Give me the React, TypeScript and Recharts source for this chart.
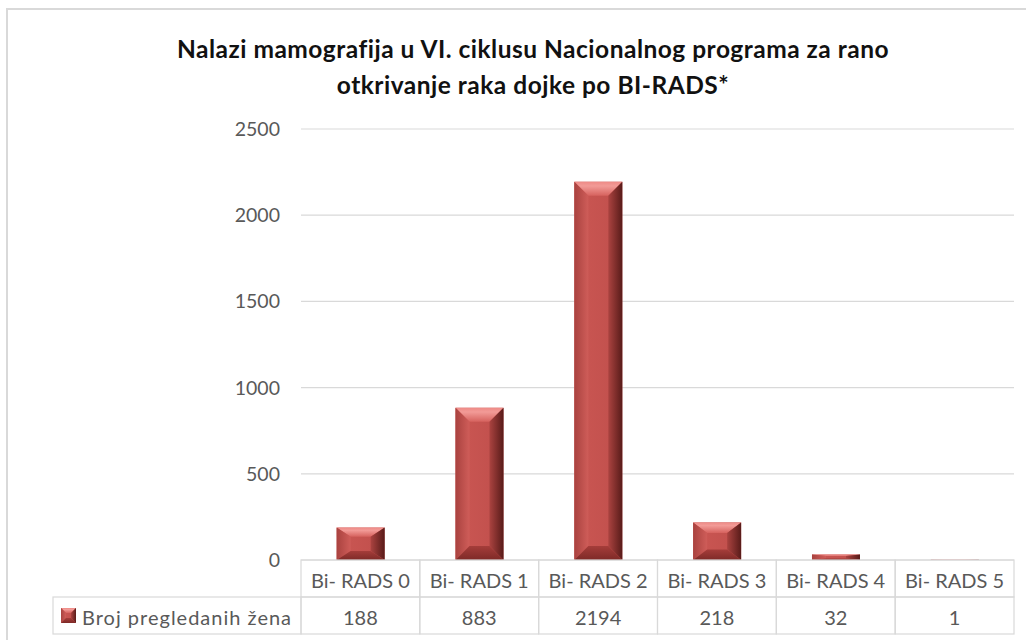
import React from 'react';
import { BarChart, Bar, XAxis, YAxis, CartesianGrid } from 'recharts';

// Mammography findings by BI-RADS category
const categories = ['Bi- RADS 0', 'Bi- RADS 1', 'Bi- RADS 2', 'Bi- RADS 3', 'Bi- RADS 4', 'Bi- RADS 5'];
const counts = [188, 883, 2194, 218, 32, 1];
const yTicks = [0, 500, 1000, 1500, 2000, 2500];
const seriesName = 'Broj pregledanih žena';
const titleLines = [
  'Nalazi mamografija u VI. ciklusu Nacionalnog programa za rano',
  'otkrivanje raka dojke po BI-RADS*',
];

const data = categories.map((category, i) => ({ category, value: counts[i] }));

const W = 1026;
const H = 640;
const MARGIN = { top: 129, right: 12, bottom: 6, left: 241 };
const Y_AXIS_W = 60;
const X_AXIS_H = 74;
const PLOT_W = W - MARGIN.left - Y_AXIS_W - MARGIN.right;
const COL_W = PLOT_W / categories.length;
const ROW_H = 37;
const LEGEND_W = 248;

const FONT = 'Lato, "Open Sans", sans-serif';
const TEXT = '#595959';
const GRID = '#d9d9d9';

type BevelProps = { x: number; y: number; w: number; h: number; bx: number; by: number; id: string };

// A rectangle with an angled bevel on all four sides
function Bevel({ x, y, w, h, bx, by, id }: BevelProps) {
  const x2 = x + w;
  const y2 = y + h;
  const ix1 = x + bx;
  const ix2 = x2 - bx;
  const iy1 = y + by;
  const iy2 = y2 - by;
  return (
    <g>
      <defs>
        <linearGradient id={`${id}-top`} x1="0" y1="0" x2="0" y2="1">
          <stop offset="0%" stopColor="#ee8a86" />
          <stop offset="30%" stopColor="#f29b97" />
          <stop offset="100%" stopColor="#d6625e" />
        </linearGradient>
        <linearGradient id={`${id}-left`} x1="0" y1="0" x2="1" y2="0">
          <stop offset="0%" stopColor="#a9423f" />
          <stop offset="100%" stopColor="#cf5d59" />
        </linearGradient>
        <linearGradient id={`${id}-right`} x1="0" y1="0" x2="1" y2="0">
          <stop offset="0%" stopColor="#ab4340" />
          <stop offset="100%" stopColor="#581b19" />
        </linearGradient>
        <linearGradient id={`${id}-bottom`} x1="0" y1="0" x2="0" y2="1">
          <stop offset="0%" stopColor="#a53d3a" />
          <stop offset="100%" stopColor="#7e2a27" />
        </linearGradient>
        <linearGradient id={`${id}-face`} x1="0" y1="0" x2="1" y2="0">
          <stop offset="0%" stopColor="#cb5753" />
          <stop offset="100%" stopColor="#c04f4c" />
        </linearGradient>
      </defs>
      <rect x={x} y={y} width={w} height={h} fill={`url(#${id}-face)`} />
      <polygon points={`${x},${y} ${x2},${y} ${ix2},${iy1} ${ix1},${iy1}`} fill={`url(#${id}-top)`} />
      <polygon points={`${x},${y} ${ix1},${iy1} ${ix1},${iy2} ${x},${y2}`} fill={`url(#${id}-left)`} />
      <polygon points={`${x2},${y} ${x2},${y2} ${ix2},${iy2} ${ix2},${iy1}`} fill={`url(#${id}-right)`} />
      <polygon points={`${x},${y2} ${ix1},${iy2} ${ix2},${iy2} ${x2},${y2}`} fill={`url(#${id}-bottom)`} />
    </g>
  );
}

function BevelBar(props: any) {
  const { x, y, width, height, index } = props;
  if (!(height > 0)) return <g />;
  const bx = Math.min(14, width / 2);
  const by = Math.min(14, height * 0.28);
  return <Bevel x={x} y={y} w={width} h={height} bx={bx} by={by} id={`bar-${index}`} />;
}

// Data table under the plot: category row, value row and the series key
function TableTick(props: any) {
  const { x, y, payload, index } = props;
  const left = x - COL_W / 2;
  const textProps = {
    textAnchor: 'middle' as const,
    dominantBaseline: 'central' as const,
    fill: TEXT,
    fontFamily: FONT,
    fontSize: 20,
  };
  return (
    <g>
      <rect x={left} y={y} width={COL_W} height={ROW_H} fill="none" stroke={GRID} strokeWidth={1.2} />
      <text x={x} y={y + ROW_H / 2 + 1} {...textProps}>{payload.value}</text>
      <rect x={left} y={y + ROW_H} width={COL_W} height={ROW_H} fill="none" stroke={GRID} strokeWidth={1.2} />
      <text x={x} y={y + ROW_H * 1.5 + 1} {...textProps}>{counts[index]}</text>
      {index === 0 && (
        <g>
          <rect x={left - LEGEND_W} y={y + ROW_H} width={LEGEND_W} height={ROW_H} fill="none" stroke={GRID} strokeWidth={1.2} />
          <Bevel x={left - LEGEND_W + 8} y={y + ROW_H + 11} w={15} h={15} bx={5} by={5} id="key" />
          <text
            x={left - LEGEND_W + 29}
            y={y + ROW_H * 1.5 + 1}
            dominantBaseline="central"
            fill={TEXT}
            fontFamily={FONT}
            fontSize={20}
            letterSpacing={1}
          >
            {seriesName}
          </text>
        </g>
      )}
    </g>
  );
}

export default function App() {
  return (
    <div style={{ position: 'absolute', left: 0, top: 0, width: W, height: H, overflow: 'hidden', background: '#fff' }}>
      <div
        style={{
          position: 'absolute',
          left: 6,
          top: 8,
          width: W + 40,
          height: H + 40,
          borderTop: '2px solid #d9d9d9',
          borderLeft: '2px solid #d9d9d9',
        }}
      />
      <svg width={W} height={110} style={{ position: 'absolute', left: 0, top: 0 }}>
        {titleLines.map((line, i) => (
          <text
            key={i}
            x={533}
            y={58 + i * 36}
            textAnchor="middle"
            fontFamily={FONT}
            fontWeight={700}
            fontSize={24.5}
            letterSpacing={0.5}
            fill="#111"
          >
            {line}
          </text>
        ))}
      </svg>
      <div style={{ position: 'absolute', left: 0, top: 0 }}>
        <BarChart width={W} height={H} data={data} margin={MARGIN} barCategoryGap="30%">
          <CartesianGrid vertical={false} stroke={GRID} strokeWidth={1.2} />
          <YAxis
            domain={[0, 2500]}
            ticks={yTicks}
            width={Y_AXIS_W}
            axisLine={false}
            tickLine={false}
            tickSize={0}
            tickMargin={21}
            tick={{ fill: TEXT, fontFamily: FONT, fontSize: 19.5 }}
          />
          <XAxis
            dataKey="category"
            height={X_AXIS_H}
            axisLine={false}
            tickLine={false}
            tickSize={0}
            tickMargin={0}
            interval={0}
            tick={<TableTick />}
          />
          <Bar dataKey="value" name={seriesName} shape={<BevelBar />} isAnimationActive={false} />
        </BarChart>
      </div>
    </div>
  );
}
